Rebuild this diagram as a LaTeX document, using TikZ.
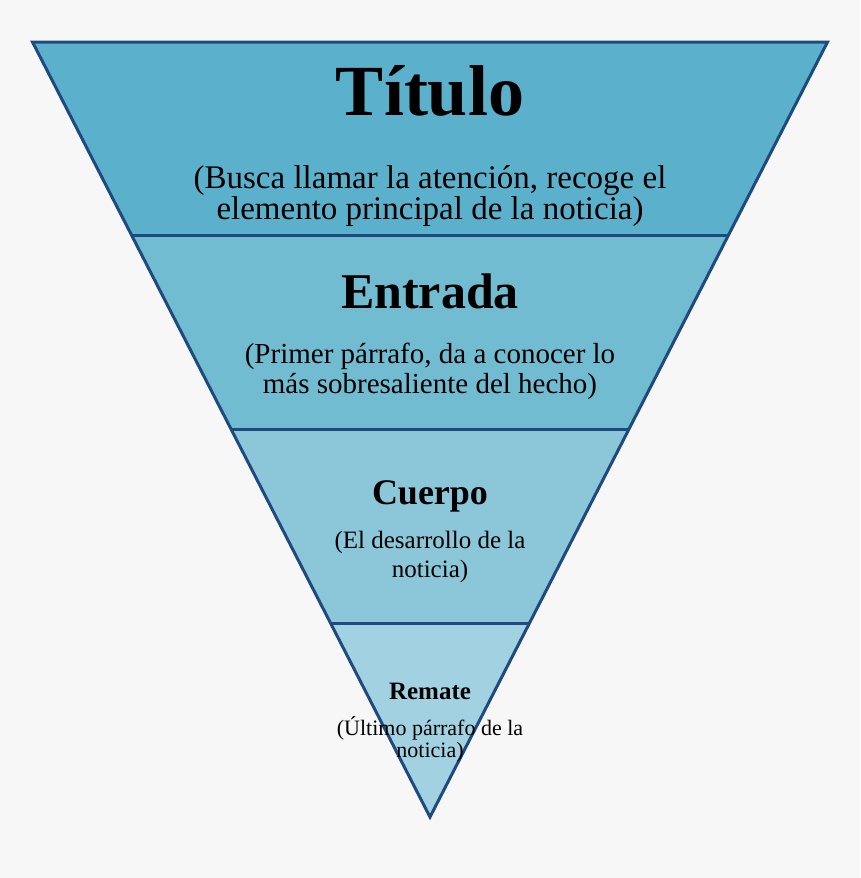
\documentclass[tikz,border=0pt]{standalone}
\usepackage{fontspec}
\setmainfont{Liberation Serif}
\usetikzlibrary{calc,positioning}
\definecolor{bgfill}{HTML}{F7F7F7}
\definecolor{edge}{HTML}{1F4A80}
\definecolor{bandA}{HTML}{5BB1CB}
\definecolor{bandB}{HTML}{71BCD1}
\definecolor{bandC}{HTML}{8BC7D8}
\definecolor{bandD}{HTML}{A2D2E1}
\newcommand{\fs}[2]{\fontsize{#1}{#2}\selectfont}

\begin{document}
\begin{tikzpicture}[x=1pt,y=-1pt,
    head/.style={font=\bfseries,align=center,inner sep=0pt,anchor=base},
    note/.style={align=center,inner sep=0pt,anchor=base}]
    \fill[bgfill] (0,0) rectangle (860,878);
    \useasboundingbox (0,0) rectangle (860,878);
    \coordinate (tl) at (32.5,42);
    \coordinate (tr) at (827.5,42);
    \coordinate (apex) at (430,817);
    % cut points on both sides
    \foreach \f/\n in {0.25/1,0.5/2,0.75/3}{
        \coordinate (l\n) at ($(tl)!\f!(apex)$);
        \coordinate (r\n) at ($(tr)!\f!(apex)$);
    }
    \fill[bandA] (tl) -- (tr) -- (r1) -- (l1) -- cycle;
    \fill[bandB] (l1) -- (r1) -- (r2) -- (l2) -- cycle;
    \fill[bandC] (l2) -- (r2) -- (r3) -- (l3) -- cycle;
    \fill[bandD] (l3) -- (r3) -- (apex) -- cycle;
    \foreach \n in {1,2,3}
        \draw[edge,line width=3pt] (l\n) -- (r\n);
    \draw[edge,line width=3pt,line join=miter] (tl) -- (tr) -- (apex) -- cycle;

    % base of a note is its last line
    \node[head,font=\bfseries\fs{72}{72}] (titulo) at (430,115) {Título};
    \node[note,font=\fs{33}{31}] (tituloNote) at (430,219)
        {(Busca llamar la atención, recoge el\\elemento principal de la noticia)};
    \node[head,font=\bfseries\fs{50}{50}] (entrada) at (430,308) {Entrada};
    \node[note,font=\fs{29}{30}] (entradaNote) at (430,393)
        {(Primer párrafo, da a conocer lo\\más sobresaliente del hecho)};
    \node[head,font=\bfseries\fs{36}{36}] (cuerpo) at (430,504) {Cuerpo};
    \node[note,font=\fs{25}{29}] (cuerpoNote) at (430,577)
        {(El desarrollo de la\\noticia)};
    \node[head,font=\bfseries\fs{25}{25}] (remate) at (430,699) {Remate};
    \node[note,font=\fs{22}{22}] (remateNote) at (430,757)
        {(Último párrafo de la\\noticia)};
\end{tikzpicture}
\end{document}
